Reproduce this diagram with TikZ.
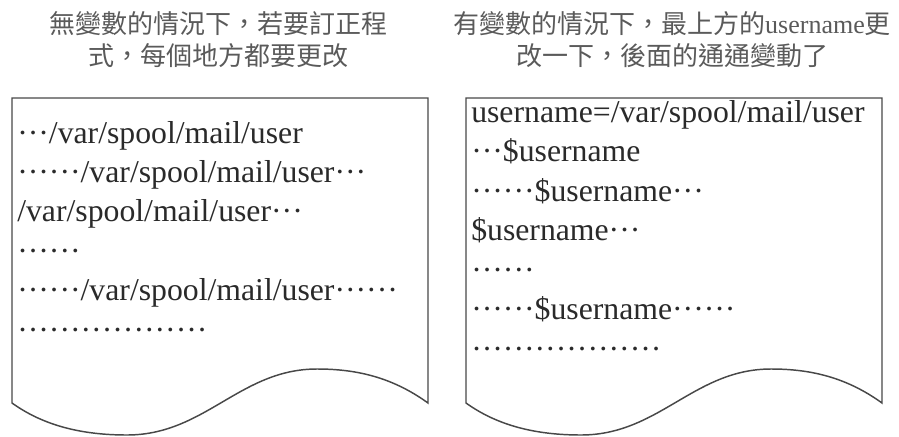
\documentclass[tikz,border=0pt]{standalone}
\usepackage{fontspec}
\setmainfont{Liberation Serif}
\newfontfamily\cjk{Noto Sans CJK TC}
\definecolor{titlegray}{HTML}{5A5A5A}
\definecolor{docgray}{HTML}{484848}
\definecolor{textgray}{HTML}{2A2A2A}
% one dot, and a full-width group of three
\newcommand{\onedot}{\makebox[0.333em]{\textperiodcentered}}
\newcommand{\elli}{\onedot\onedot\onedot}
\tikzset{
  doctitle/.style={align=center, inner sep=0pt, text=titlegray, font=\cjk\fontsize{19.5}{24}\selectfont},
  doctext/.style={anchor=base west, inner sep=0pt, text=textgray, font=\fontsize{23.8}{28}\selectfont},
  docframe/.style={draw=docgray, line width=1.1pt, fill=white},
}
\begin{document}
\begin{tikzpicture}[x=0.75pt,y=-0.75pt]
	\useasboundingbox (0,0) rectangle (899,436);
	% Titles
	\node[doctitle] (ltitle) at (218,40) {無變數的情況下，若要訂正程\\式，每個地方都要更改};
	\node[doctitle] (rtitle) at (672,40) {有變數的情況下，最上方的{\rmfamily username}更\\改一下，後面的通通變動了};
	% Documents with wavy bottom
	\foreach \dx/\name in {0/ldoc, 454/rdoc}{
		\begin{scope}[shift={(\dx,0)}]
			\draw[docframe] (12,98) coordinate (\name) -- (428,98) -- (428,403) .. controls (392,377) and (356,369) .. (317,369) .. controls (240,369) and (205,435) .. (127,435) .. controls (76,435) and (40,423) .. (12,403) -- cycle;
		\end{scope}
	}
	% Without variable
	\foreach \t [count=\i] in {{\elli/var/spool/mail/user}, {\elli\elli/var/spool/mail/user\elli}, {/var/spool/mail/user\elli}, {\elli\elli}, {\elli\elli/var/spool/mail/user\elli\elli}, {\elli\elli\elli\elli\elli\elli}}
		\node[doctext] (l\i) at (17,{143+39.4*(\i-1)}) {\t};
	% With variable
	\foreach \t [count=\i] in {{username=/var/spool/mail/user}, {\elli\$username}, {\elli\elli\$username\elli}, {\$username\elli}, {\elli\elli}, {\elli\elli\$username\elli\elli}, {\elli\elli\elli\elli\elli\elli}}
		\node[doctext] (r\i) at (471,{122+39.5*(\i-1)}) {\t};
\end{tikzpicture}
\end{document}
